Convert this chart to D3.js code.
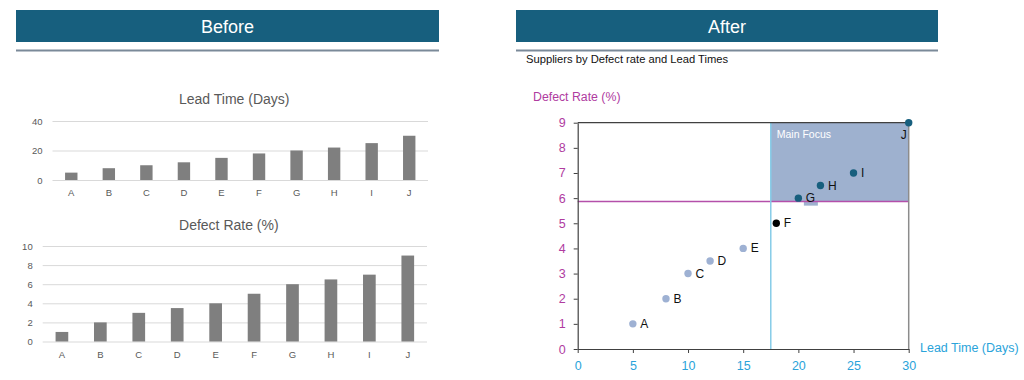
<!DOCTYPE html>
<html>
<head>
<meta charset="utf-8">
<script src="https://cdn.jsdelivr.net/npm/d3@7"></script>
<style>
  html, body { margin: 0; padding: 0; background: #fff; }
  svg { display: block; }
</style>
</head>
<body>
<svg id="chart" width="1024" height="380"></svg>
<script>
// ---------- data ----------
const suppliers   = ["A","B","C","D","E","F","G","H","I","J"];
const leadTime    = [5, 8, 10, 12, 15, 18, 20, 22, 25, 30];
const defectRate  = [1, 2, 3, 3.5, 4, 5, 6, 6.5, 7, 9];
const pointGroup  = ["low","low","low","low","low","mid","focus","focus","focus","focus"];
const leadTicks   = [0, 20, 40];
const defectTicks = [0, 2, 4, 6, 8, 10];
const scatterXTicks = [0, 5, 10, 15, 20, 25, 30];
const scatterYTicks = [0, 1, 2, 3, 4, 5, 6, 7, 8, 9];
const leadThreshold   = 17.5;
const defectThreshold = 5.87;
const panelTitles = ["Before", "After"];
const subtitle = "Suppliers by Defect rate and Lead Times";

// ---------- style ----------
const FONT = "'Liberation Sans', Arial, sans-serif";
const HEADER = "#175f7e";
const GRID = "#d9d9d9";
const BAR = "#7f7f7f";
const TXT_GRAY = "#595959";
const PURPLE = "#b03c9f";
const BLUE = "#2aa3da";
const VLINE = "#86cce8";
const HLINE = "#b450aa";
const FOCUS_FILL = "#9eb1cf";
const colorByGroup = { low: "#9eb1d3", mid: "#000000", focus: "#175f7e" };

const svg = d3.select("#chart").style("font-family", FONT);

// ---------- headers ----------
const headers = [{x: 16, w: 423}, {x: 516, w: 422}];
headers.forEach((h, i) => {
  svg.append("rect").attr("x", h.x).attr("y", 10).attr("width", h.w).attr("height", 32).attr("fill", HEADER);
  svg.append("text").attr("x", h.x + h.w / 2).attr("y", 27).attr("text-anchor", "middle")
    .attr("dominant-baseline", "central").attr("fill", "#fff").attr("font-size", 18).text(panelTitles[i]);
  svg.append("rect").attr("x", h.x).attr("y", 49.5).attr("width", h.w).attr("height", 2).attr("fill", "#7b8a99");
});
svg.append("text").attr("x", 526).attr("y", 59).attr("dominant-baseline", "central")
  .attr("font-size", 11.2).attr("fill", "#111").text(subtitle);

// ---------- bar charts ----------
function barChart(values, ticks, yMax, x0, x1, yTop, yBottom, title, titleY, labelY) {
  const x = d3.scaleBand().domain(suppliers).range([x0, x1]).paddingInner(0.67).paddingOuter(0.335);
  const y = d3.scaleLinear().domain([0, yMax]).range([yBottom, yTop]);
  const g = svg.append("g");
  g.append("text").attr("x", (x0 + x1) / 2 - 6).attr("y", titleY).attr("text-anchor", "middle")
    .attr("dominant-baseline", "central").attr("font-size", 14).attr("fill", TXT_GRAY).text(title);
  const yAxis = d3.axisLeft(y).tickValues(ticks).tickSize(-(x1 - x0)).tickPadding(10);
  const ya = g.append("g").attr("transform", `translate(${x0},0)`).call(yAxis);
  ya.select(".domain").remove();
  ya.selectAll(".tick line").attr("stroke", GRID).attr("stroke-width", 1);
  ya.selectAll(".tick text").attr("fill", TXT_GRAY).attr("font-size", 9.5).attr("font-family", FONT);
  g.selectAll(".bar").data(values).join("rect")
    .attr("x", (d, i) => x(suppliers[i])).attr("width", x.bandwidth())
    .attr("y", d => y(d)).attr("height", d => yBottom - y(d)).attr("fill", BAR);
  const xAxis = d3.axisBottom(x).tickSize(0).tickPadding(0);
  const xa = g.append("g").attr("transform", `translate(0,${labelY - 4})`).call(xAxis);
  xa.select(".domain").remove();
  xa.selectAll(".tick text").attr("fill", TXT_GRAY).attr("font-size", 9.5).attr("font-family", FONT);
}
barChart(leadTime, leadTicks, 40, 52.5, 428, 121, 180, "Lead Time (Days)", 99, 193);
barChart(defectRate, defectTicks, 10, 42.7, 427, 246, 341.5, "Defect Rate (%)", 225, 355);

// ---------- scatter ----------
const sx = d3.scaleLinear().domain([0, 30]).range([577.7, 908.7]);
const sy = d3.scaleLinear().domain([0, 9]).range([349, 122.7]);
const sg = svg.append("g");

// focus rectangle
sg.append("rect").attr("x", sx(leadThreshold)).attr("y", sy(9))
  .attr("width", sx(30) - sx(leadThreshold)).attr("height", sy(defectThreshold) - sy(9))
  .attr("fill", FOCUS_FILL);
sg.append("text").attr("x", sx(leadThreshold) + 6).attr("y", sy(9) + 11).attr("dominant-baseline", "central")
  .attr("font-size", 10.5).attr("fill", "#fff").text("Main Focus");

// G label background box
const gi = suppliers.indexOf("G");
sg.append("rect").attr("x", sx(leadTime[gi]) + 5.5).attr("y", sy(defectRate[gi]) - 7)
  .attr("width", 14).attr("height", 14.5).attr("fill", FOCUS_FILL);

// threshold lines
const hy = Math.round(sy(defectThreshold)) + 0.5;
sg.append("rect").attr("x", sx(0)).attr("y", hy - 0.75)
  .attr("width", sx(30) - sx(0)).attr("height", 1.5).attr("fill", HLINE);
sg.append("line").attr("x1", sx(leadThreshold)).attr("x2", sx(leadThreshold)).attr("y1", sy(9)).attr("y2", sy(0))
  .attr("stroke", VLINE).attr("stroke-width", 1.5);

// border: top and right
sg.append("line").attr("x1", sx(0)).attr("x2", sx(30)).attr("y1", sy(9)).attr("y2", sy(9)).attr("stroke", "#404040").attr("stroke-width", 1.2);
sg.append("line").attr("x1", sx(30)).attr("x2", sx(30)).attr("y1", sy(9)).attr("y2", sy(0)).attr("stroke", "#8c8c8c").attr("stroke-width", 1.5);

// axes
const xAx = sg.append("g").attr("transform", `translate(0,${sy(0)})`)
  .call(d3.axisBottom(sx).tickValues(scatterXTicks).tickSize(4).tickSizeOuter(0).tickPadding(8));
xAx.select(".domain").attr("stroke", "#404040").attr("stroke-width", 1.2);
xAx.selectAll(".tick line").attr("stroke", "#404040");
xAx.selectAll(".tick text").attr("fill", BLUE).attr("font-size", 12.5).attr("font-family", FONT);

const yAx = sg.append("g").attr("transform", `translate(${sx(0)},0)`)
  .call(d3.axisLeft(sy).tickValues(scatterYTicks).tickSize(4).tickSizeOuter(0).tickPadding(8));
yAx.select(".domain").attr("stroke", "#404040").attr("stroke-width", 1.2);
yAx.selectAll(".tick line").attr("stroke", "#404040");
yAx.selectAll(".tick text").attr("fill", PURPLE).attr("font-size", 12.5).attr("font-family", FONT);

sg.append("text").attr("x", 533).attr("y", 97).attr("dominant-baseline", "central")
  .attr("font-size", 12.3).attr("fill", PURPLE).text("Defect Rate (%)");
sg.append("text").attr("x", 920).attr("y", 348).attr("dominant-baseline", "central")
  .attr("font-size", 12.5).attr("fill", BLUE).text("Lead Time (Days)");

// points
sg.selectAll(".pt").data(suppliers).join("circle")
  .attr("cx", (d, i) => sx(leadTime[i])).attr("cy", (d, i) => sy(defectRate[i]))
  .attr("r", 3.7).attr("fill", (d, i) => colorByGroup[pointGroup[i]]);
sg.selectAll(".lbl").data(suppliers).join("text")
  .attr("x", (d, i) => d === "J" ? sx(leadTime[i]) - 2 : sx(leadTime[i]) + 7.5)
  .attr("y", (d, i) => d === "J" ? sy(defectRate[i]) + 12.5 : sy(defectRate[i]))
  .attr("text-anchor", d => d === "J" ? "end" : "start")
  .attr("dominant-baseline", "central")
  .attr("font-size", 12).attr("fill", "#111").text(d => d);
</script>
</body>
</html>
